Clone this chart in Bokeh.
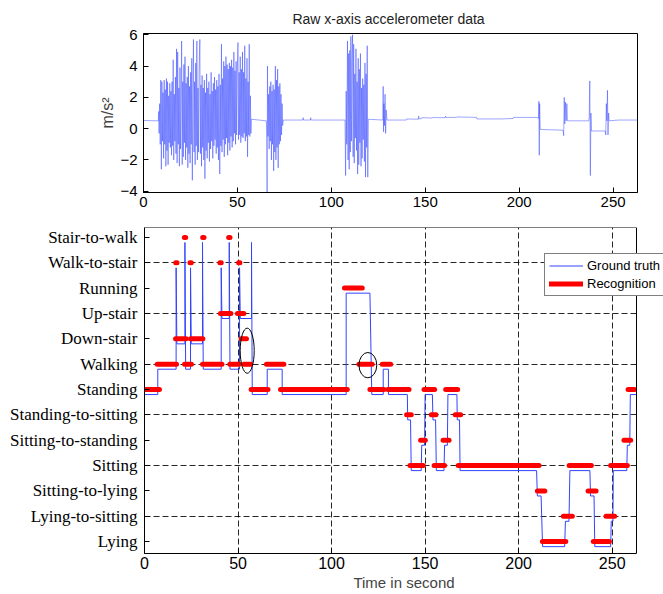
import numpy as np
from bokeh.plotting import figure
from bokeh.layouts import column
from bokeh.models import FixedTicker, Range1d, Legend, LegendItem, BoxAnnotation
from bokeh.embed import file_html
from bokeh.resources import INLINE

# ---------------- data ----------------
ACTIVITY_LABELS = ["Lying", "Lying-to-sitting", "Sitting-to-lying", "Sitting",
                   "Sitting-to-standing", "Standing-to-sitting", "Standing", "Walking",
                   "Down-stair", "Up-stair", "Running", "Walk-to-stair", "Stair-to-walk"]

X_TICKS = [0, 50, 100, 150, 200, 250]
ACC_TICKS = [-4, -2, 0, 2, 4, 6]
GRID_LABELS = ["Lying-to-sitting", "Sitting", "Standing-to-sitting", "Walking",
               "Up-stair", "Walk-to-stair"]
TIME_MAX = 263

# ground truth: start time, end time, activity
TRUTH_START = [0, 7.1, 16.9, 17.3, 21.6, 22.0, 24.6, 25.0, 31.0, 31.4, 41.0, 41.4, 45.3,
               45.7, 50.8, 51.2, 57.2, 57.6, 65.6, 73.6, 107.8, 121.5, 127.6, 130.4,
               140.7, 142.6, 148.2, 150.0, 154.2, 156.0, 160.4, 162.2, 167.2, 168.7,
               210.0, 212.8, 225.0, 227.4, 238.4, 240.7, 249.5, 250.6, 258.1, 259.7]
TRUTH_END = [7.1, 16.9, 16.9, 21.6, 21.6, 24.6, 24.6, 31.0, 31.0, 41.0, 41.0, 45.3, 45.3,
             50.8, 50.8, 57.2, 57.2, 65.6, 73.6, 107.8, 120.5, 127.6, 130.4, 140.5,
             142.2, 147.9, 149.7, 153.9, 155.6, 160.1, 161.9, 167.0, 168.4, 209.6,
             212.0, 224.6, 226.9, 238.1, 240.3, 249.2, 250.4, 257.8, 259.4, 263.0]
TRUTH_STATE = ["Standing", "Walking", "Walk-to-stair", "Down-stair", "Stair-to-walk",
               "Walking", "Walk-to-stair", "Down-stair", "Stair-to-walk", "Walking",
               "Walk-to-stair", "Up-stair", "Stair-to-walk", "Walking", "Walk-to-stair",
               "Up-stair", "Stair-to-walk", "Standing", "Walking", "Standing", "Running",
               "Standing", "Walking", "Standing", "Standing-to-sitting", "Sitting",
               "Sitting-to-standing", "Standing", "Standing-to-sitting", "Sitting",
               "Sitting-to-standing", "Standing", "Standing-to-sitting", "Sitting",
               "Sitting-to-lying", "Lying", "Lying-to-sitting", "Sitting",
               "Sitting-to-lying", "Lying", "Lying-to-sitting", "Sitting",
               "Sitting-to-standing", "Standing"]

# recognition output: start time, end time, activity
RECOG_START = [0, 6.8, 16.7, 16.6, 21.3, 21.4, 24.3, 24.6, 31.1, 31.0, 40.3, 40.6, 45.0,
               45.6, 50.3, 49.7, 51.7, 53.1, 57.0, 65.2, 72.7, 106.9, 114.6, 120.5,
               127.1, 130.1, 140.1, 141.9, 147.6, 149.4, 153.3, 154.8, 159.6, 161.0,
               166.1, 167.7, 210.0, 212.7, 223.9, 227.0, 237.1, 239.9, 246.7, 249.2,
               256.3, 258.5]
RECOG_END = [8.0, 17.1, 17.4, 22.3, 22.0, 25.1, 25.0, 31.2, 31.8, 41.4, 41.0, 46.2, 45.7,
             50.6, 51.0, 53.1, 54.5, 56.7, 66.0, 74.5, 108.4, 116.4, 121.7, 128.0,
             131.6, 141.4, 142.6, 149.0, 150.1, 155.1, 155.8, 160.4, 162.8, 167.4,
             169.0, 210.9, 214.0, 225.2, 228.7, 238.9, 241.4, 248.5, 251.3, 258.1,
             259.9, 262.0]
RECOG_STATE = ["Standing", "Walking", "Walk-to-stair", "Down-stair", "Stair-to-walk",
               "Walking", "Walk-to-stair", "Down-stair", "Stair-to-walk", "Walking",
               "Walk-to-stair", "Up-stair", "Stair-to-walk", "Walking", "Walk-to-stair",
               "Up-stair", "Down-stair", "Walking", "Standing", "Walking", "Standing",
               "Running", "Walking", "Standing", "Walking", "Standing",
               "Standing-to-sitting", "Sitting", "Sitting-to-standing", "Standing",
               "Standing-to-sitting", "Sitting", "Sitting-to-standing", "Standing",
               "Standing-to-sitting", "Sitting", "Sitting-to-lying", "Lying",
               "Lying-to-sitting", "Sitting", "Sitting-to-lying", "Lying",
               "Lying-to-sitting", "Sitting", "Sitting-to-standing", "Standing"]

# highlighted misrecognitions (ellipses): centre time, centre level, width, height
ELLIPSE_TIME = [54.9, 119.4]
ELLIPSE_LEVEL = [8.53, 7.96]
ELLIPSE_WIDTH = [7.5, 9.5]
ELLIPSE_HEIGHT = [1.78, 1.0]

# raw x-axis accelerometer trace
RAW_TIME = [0, 7.9, 8.1, 8.3, 8.6, 8.9, 9.2, 9.5, 9.8, 10.1, 10.4, 10.7, 11.0, 11.3, 11.6,
            11.9, 12.2, 12.5, 12.8, 13.1, 13.4, 13.7, 14.0, 14.3, 14.6, 14.9, 15.2, 15.5,
            15.8, 16.1, 16.4, 16.7, 17.0, 17.3, 17.6, 17.9, 18.2, 18.5, 18.8, 19.1, 19.4,
            19.7, 20.0, 20.3, 20.6, 20.9, 21.2, 21.5, 21.8, 22.1, 22.4, 22.7, 23.0, 23.3,
            23.6, 23.9, 24.2, 24.5, 24.8, 25.1, 25.4, 25.7, 26.0, 26.3, 26.6, 26.9, 27.2,
            27.5, 27.8, 28.1, 28.4, 28.7, 29.0, 29.3, 29.6, 30.0, 30.3, 30.6, 30.9, 31.2,
            31.5, 31.8, 32.1, 32.4, 32.7, 33.0, 33.3, 33.6, 33.9, 34.2, 34.5, 34.8, 35.1,
            35.4, 35.7, 36.0, 36.3, 36.6, 36.9, 37.2, 37.5, 37.8, 38.1, 38.4, 38.7, 39.0,
            39.3, 39.6, 39.9, 40.2, 40.6, 40.9, 41.2, 41.5, 41.8, 42.1, 42.4, 42.7, 43.0,
            43.3, 43.6, 43.9, 44.2, 44.5, 44.8, 45.1, 45.4, 45.7, 46.0, 46.3, 46.6, 46.9,
            47.2, 47.5, 47.8, 48.1, 48.4, 48.7, 49.0, 49.3, 49.6, 49.9, 50.3, 50.6, 50.9,
            51.2, 51.5, 51.8, 52.1, 52.4, 52.7, 53.0, 53.3, 53.6, 53.9, 54.2, 54.5, 54.8,
            55.1, 55.4, 55.7, 56.0, 56.3, 56.6, 56.9, 57.2, 57.4,
            65.4, 65.6, 65.8, 66.0, 66.3, 66.6, 66.9, 67.2, 67.5, 67.8, 68.1, 68.4, 68.7,
            69.0, 69.3, 69.6, 69.9, 70.2, 70.5, 70.8, 71.1, 71.4, 71.7, 72.0, 72.3, 72.6,
            72.9, 73.2, 73.5, 73.8, 74.1, 74.4,
            84.8, 85.0, 85.2, 88.8, 89.0, 89.2,
            107.3, 107.6, 107.9, 108.2, 108.6, 108.9, 109.2, 109.5, 109.8, 110.1, 110.4,
            110.7, 111.0, 111.3, 111.6, 111.9, 112.2, 112.5, 112.8, 113.1, 113.4, 113.7,
            114.0, 114.3, 114.6, 114.9, 115.2, 115.5, 115.8, 116.1, 116.4, 116.7, 117.0,
            117.3, 117.6, 117.9, 118.2, 118.5, 118.8, 119.1, 119.4, 119.7,
            127.4, 127.6, 127.8, 128.0, 128.3, 128.6, 128.9, 129.2, 129.6,
            140.0, 140.2, 146.3, 146.5, 146.7, 148.0, 148.2, 153.5, 153.7, 156.0, 156.2,
            160.6, 160.8, 161.0, 166.7, 166.9, 177.3, 177.5, 190.5, 196.8, 197.0, 209.5,
            210.3, 210.5, 210.7, 210.9, 211.2,
            223.4, 223.7, 224.0, 224.3, 224.6, 225.0, 225.4, 225.7,
            237.0, 237.3, 237.6, 237.9, 238.2, 238.5,
            245.8, 246.1, 246.4, 246.7, 247.0, 247.3, 247.6, 247.9, 253.0, 263.0]
RAW_ACC = [0.52, 0.5, 1.1, -0.3, 1.6, -1.0, 3.1, -2.6, 3.0, -0.8, 2.3, -1.9, 3.1, -1.0, 2.5,
           -2.4, 3.2, -1.4, 3.0, -2.3, 2.1, -0.9, 2.9, -1.2, 2.4, -1.7, 3.0, -1.1,
           4.4, -2.0, 2.2, -0.8, 3.3, -1.6, 5.1, -2.2, 4.9, -1.0, 2.6, -2.4, 3.9,
           -1.3, 2.2, 5.6, -2.3, 3.0, -1.8, 4.1, -0.9, 4.6, -2.0, 2.9, -1.2, 3.3,
           -2.5, 4.0, -1.6, 2.7, -2.2, 3.6, -1.0, 4.5, -3.3, 2.4, 5.7, -1.5, 3.0,
           -2.3, 4.2, -1.1, 5.6, -2.0, 2.6, -1.5, 3.8, 5.7, -1.6, 2.8, -2.4, 3.4,
           -1.2, 2.6, -2.0, 3.1, -3.2, 2.3, -1.4, 3.5, -1.9, 2.6, -0.9, 3.0, -2.1,
           2.2, -1.3, 3.6, -0.8, 2.4, -1.9, 2.9, -1.1, 3.3, -0.7, 2.5, -1.6, 3.1,
           -1.2, 2.7, -2.0, 3.5, -2.9, 2.8, -1.1, 5.4, -1.5, 3.2, -0.7, 4.3, -1.8,
           4.0, -1.0, 4.6, -0.6, 4.1, -1.7, 3.8, -0.9, 4.2, -1.4, 4.0, -0.5, 4.4,
           -1.2, 3.9, -0.8, 4.9, -0.3, 3.7, -1.0, 4.3, -0.4, 3.5, 5.5, -0.7, 3.6,
           -0.4, 4.6, -0.9, 3.8, -0.5, 4.9, -0.6, 3.6, -0.3, 5.3, -0.8, 3.2, -0.5,
           4.5, -1.8, 3.0, -0.4, 5.4, -0.5, 2.1, -0.3, 0.6,
           0.5, -0.3, -4.15, 4.0, -0.5, 2.2, -1.3, 2.7, -0.8, 3.0, -2.0, 2.4, -1.0,
           2.8, -2.7, 2.5, -1.5, 4.0, -2.0, 3.1, -1.2, 3.8, -2.5, 2.7, -1.0, 2.9,
           -0.8, 2.2, -0.4, 1.6, 0.2, 0.55,
           0.55, 0.7, 0.55, 0.55, 0.7, 0.55,
           0.55, -3.0, 2.4, -1.0, 5.6, -2.0, 4.8, -2.6, 5.0, -1.5, 5.9,
           -0.8, 4.3, 6.0, -1.8, 5.4, -2.2, 3.5, -0.6, 5.1, -1.4, 3.0,
           -2.9, 4.5, -2.3, 3.8, -0.9, 4.8, -2.4, 2.6, -1.9, 3.2, -0.7,
           2.8, -2.1, 4.2, -3.1, 3.5, -1.2, 5.3, -3.1, 0.6,
           0.55, 2.7, -0.2, 1.6, 0.2, 2.2, -0.3, 1.2, 0.55,
           0.55, 0.62, 0.6, 0.8, 0.62, 0.65, 0.7, 0.68, 0.7, 0.72, 0.7,
           0.7, 0.8, 0.72, 0.72, 0.75, 0.72, 0.62, 0.62, 0.65, 0.72, 0.72,
           0.65, 1.75, -1.7, 1.6, -0.05,
           -0.1, -0.45, 2.0, 0.3, 1.7, 0.5, 1.6, 0.5,
           0.5, 0.7, 3.05, -3.0, 1.0, -0.15,
           -0.15, -0.4, 1.6, 0.5, 2.45, -0.4, 1.0, 0.5, 0.55, 0.55]

# ---------------- styling ----------------
SANS = "Liberation Sans"
SERIF = "Liberation Serif"
TRUTH_OFFSET = -0.2
WIDTH = 663
level = {name: i + 1 for i, name in enumerate(ACTIVITY_LABELS)}


def style_axis(ax, ticks, font, size, standoff):
    ax.ticker = FixedTicker(ticks=ticks)
    ax.major_tick_in = 5
    ax.major_tick_out = 0
    ax.minor_tick_line_color = None
    ax.axis_line_color = "black"
    ax.major_tick_line_color = "black"
    ax.major_label_text_color = "black"
    ax.major_label_text_font = font
    ax.major_label_text_font_size = size
    ax.major_label_standoff = standoff


# ---------------- top: raw accelerometer ----------------
p1 = figure(width=WIDTH, height=218, x_range=Range1d(0, TIME_MAX),
            y_range=Range1d(-4.08, 6.08),
            output_backend="svg", toolbar_location=None,
            min_border_left=143, min_border_right=26, min_border_top=33,
            min_border_bottom=26)
p1.frame_align = False
p1.title.text = "Raw x-axis accelerometer  data"
p1.title.align = "center"
p1.title.text_font = SANS
p1.title.text_font_style = "normal"
p1.title.text_font_size = "14px"
p1.title.text_color = "#222222"
p1.title.standoff = 14
p1.grid.visible = False
p1.outline_line_color = "black"
p1.outline_line_alpha = 1
xa1, ya1 = p1.below[0], p1.left[0]
style_axis(xa1, X_TICKS, SANS, "15px", 4)
style_axis(ya1, ACC_TICKS, SANS, "15px", 6)
ya1.axis_label = "m/s²"
ya1.axis_label_text_font = SANS
ya1.axis_label_text_font_style = "normal"
ya1.axis_label_text_font_size = "16px"
ya1.axis_label_standoff = 1
p1.line(RAW_TIME, RAW_ACC, line_color="#2a3cff", line_width=0.7, line_alpha=0.65)

# ---------------- bottom: ground truth vs recognition ----------------
# frame runs to the right canvas edge so the legend can overhang the axes box;
# the part beyond TIME_MAX is masked white.
FRAME_LEFT_PX, AXES_RIGHT_PX = 144, 636
x_end = TIME_MAX * (WIDTH - FRAME_LEFT_PX) / (AXES_RIGHT_PX - FRAME_LEFT_PX)
Y0, Y1 = 0.53, 13.39
p2 = figure(width=WIDTH, height=376, x_range=Range1d(0, x_end), y_range=Range1d(Y0, Y1),
            output_backend="svg", toolbar_location=None,
            min_border_left=FRAME_LEFT_PX, min_border_right=0, min_border_top=9,
            min_border_bottom=41)
p2.frame_align = False
p2.outline_line_color = None
xa2, ya2 = p2.below[0], p2.left[0]
style_axis(xa2, X_TICKS, SANS, "16px", 3)
style_axis(ya2, list(range(1, 14)), SERIF, "17px", 7)
xa2.bounds = (0, TIME_MAX)
ya2.major_label_overrides = {i + 1: name for i, name in enumerate(ACTIVITY_LABELS)}
xa2.axis_label = "Time in second"
xa2.axis_label_text_font = SANS
xa2.axis_label_text_font_style = "normal"
xa2.axis_label_text_font_size = "15px"
xa2.axis_label_standoff = 2

p2.xgrid.ticker = FixedTicker(ticks=X_TICKS[1:])
p2.ygrid.ticker = FixedTicker(ticks=[level[n] for n in GRID_LABELS])
for g in (p2.xgrid[0], p2.ygrid[0]):
    g.grid_line_color = "black"
    g.grid_line_dash = "6 3"
    g.grid_line_width = 1
    g.grid_line_alpha = 0.85

gx, gy = [], []
for s, e, st in zip(TRUTH_START, TRUTH_END, TRUTH_STATE):
    gx += [s, e]
    gy += [level[st] + TRUTH_OFFSET] * 2
truth = p2.line(gx, gy, line_color="#3344ff", line_width=1)

recog = p2.segment(x0=RECOG_START, x1=RECOG_END,
                   y0=[level[s] for s in RECOG_STATE], y1=[level[s] for s in RECOG_STATE],
                   line_color="#ff0000", line_width=5, line_cap="round")

p2.ellipse(x=ELLIPSE_TIME, y=ELLIPSE_LEVEL, width=ELLIPSE_WIDTH, height=ELLIPSE_HEIGHT,
           fill_color=None, line_color="black", line_width=1)

p2.add_layout(BoxAnnotation(left=TIME_MAX, fill_color="white", fill_alpha=1,
                            line_color=None))
p2.add_layout(BoxAnnotation(left=0, right=TIME_MAX, bottom=Y0, top=Y1, fill_alpha=0,
                            line_color="black", line_width=1, line_alpha=1))

legend = Legend(items=[LegendItem(label="Ground truth", renderers=[truth]),
                       LegendItem(label="Recognition", renderers=[recog])],
                location=(400, 257))
legend.label_text_font = SANS
legend.label_text_font_size = "13px"
legend.label_text_color = "black"
legend.glyph_width = 34
legend.glyph_height = 15
legend.label_height = 15
legend.label_standoff = 4
legend.spacing = 3
legend.padding = 4
legend.margin = 0
legend.border_line_color = "black"
legend.border_line_width = 1
legend.background_fill_color = "white"
legend.background_fill_alpha = 1
p2.add_layout(legend, "center")

layout = column(p1, p2, spacing=0)
open("out.html", "w").write(file_html(layout, INLINE))
